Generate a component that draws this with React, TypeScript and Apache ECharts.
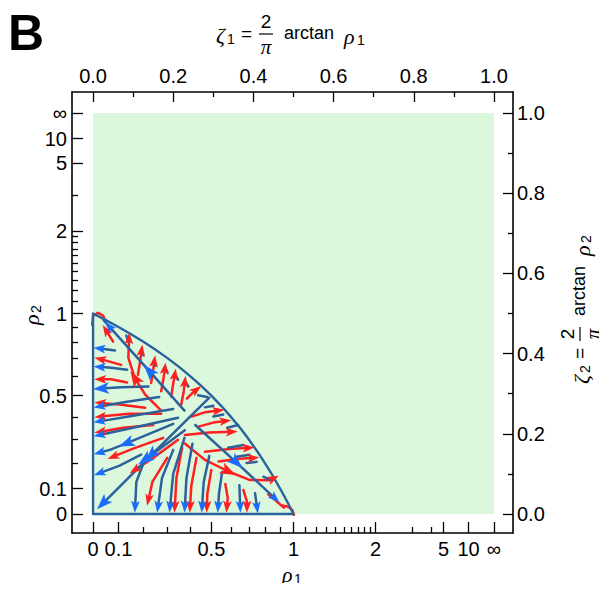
import React, { useEffect, useRef } from 'react';
import * as echarts from 'echarts';

// ---------- axis tick data ----------
const rhoMajor = [0, 0.1, 0.5, 1, 2, 5, 10, Infinity];
const rhoMajorLabels = ['0', '0.1', '0.5', '1', '2', '5', '10', '∞'];
const rhoMinorX = [0.2, 0.3, 0.4, 0.6, 0.7, 0.8, 0.9, 1.1, 1.2, 1.3, 1.4, 1.5, 1.6, 1.7, 1.8, 1.9, 3, 4];
const rhoMinorY = [0.2, 0.3, 0.4, 0.6, 0.7, 0.8, 0.9, 1.1, 1.2, 1.3, 1.4, 1.5, 1.6, 1.7, 1.8, 1.9, 3];
const zetaMajor = [0, 0.2, 0.4, 0.6, 0.8, 1.0];
const zetaMinor = [0.1, 0.3, 0.5, 0.7, 0.9];

// ---------- region data (zeta coordinates) ----------
const greenRegion = [[0, 0, 1, 1]];
const boundary = [
  [0.5, 0], [0, 0], [0, 0.5], [0.0318, 0.4837], [0.0635, 0.4665], [0.0948, 0.4485], [0.1257, 0.4295],
  [0.156, 0.4097], [0.1856, 0.3888], [0.2144, 0.367], [0.2422, 0.344], [0.2692, 0.3201], [0.2952, 0.2952],
  [0.3201, 0.2692], [0.344, 0.2422], [0.367, 0.2144], [0.3888, 0.1856], [0.4097, 0.156], [0.4295, 0.1257],
  [0.4485, 0.0948], [0.4665, 0.0635], [0.4837, 0.0318], [0.5, 0],
];
const cornerArcs = [
  [[-0.002, 0.472], [0.0, 0.494], [0.012, 0.502], [0.025, 0.495], [0.03, 0.482]],
  [[0.472, 0.021], [0.487, 0.018], [0.497, 0.01], [0.501, -0.002]],
];

// blue streamlines, arrow at the end
const blueArrowLines = [
  [[0.055, 0.408], [0.032, 0.411], [0.016, 0.413]],
  [[0.085, 0.36], [0.045, 0.365], [0.016, 0.367]],
  [[0.165, 0.292], [0.085, 0.28], [0.016, 0.268]],
  [[0.2, 0.262], [0.1, 0.245], [0.016, 0.231]],
  [[0.212, 0.24], [0.1, 0.215], [0.016, 0.197]],
  [[0.083, 0.176], [0.045, 0.161], [0.016, 0.153]],
  [[0.12, 0.148], [0.065, 0.12], [0.016, 0.102]],
  [[0.14, 0.357], [0.04, 0.468]],
  [[0.358, 0.128], [0.454, 0.039]],
  [[0.129, 0.135], [0.108, 0.08], [0.105, 0.018]],
  [[0.2, 0.16], [0.172, 0.09], [0.162, 0.018]],
  [[0.228, 0.19], [0.2, 0.1], [0.192, 0.018]],
  [[0.248, 0.175], [0.233, 0.09], [0.229, 0.018]],
  [[0.29, 0.145], [0.276, 0.08], [0.272, 0.018]],
  [[0.322, 0.105], [0.314, 0.05], [0.312, 0.018]],
  [[0.365, 0.072], [0.367, 0.018]],
  [[0.404, 0.052], [0.409, 0.016]],
];
const blueBigArrowLines = [
  [[0.29, 0.29], [0.145, 0.147]],
  [[0.145, 0.147], [0.024, 0.026]],
  [[0.228, 0.258], [0.14, 0.357]],
  [[0.255, 0.222], [0.358, 0.128]],
  [[0.138, 0.318], [0.07, 0.316], [0.02, 0.313]],
  [[0.2, 0.225], [0.14, 0.2], [0.083, 0.176]],
  [[0.229, 0.209], [0.17, 0.165], [0.129, 0.135]],
];
// blue short streamlines without arrows
const blueDashes = [
  [[0.04, 0.468], [0.026, 0.484]],
  [[0.083, 0.445], [0.088, 0.43]],
  [[0.121, 0.41], [0.125, 0.396]],
  [[0.152, 0.384], [0.156, 0.37]],
  [[0.18, 0.366], [0.186, 0.352]],
  [[0.205, 0.348], [0.212, 0.335]],
  [[0.23, 0.33], [0.238, 0.318]],
  [[0.262, 0.296], [0.285, 0.292]],
  [[0.279, 0.266], [0.3, 0.27]],
  [[0.3, 0.243], [0.325, 0.248]],
  [[0.335, 0.215], [0.362, 0.222]],
  [[0.337, 0.165], [0.375, 0.172]],
  [[0.355, 0.142], [0.39, 0.148]],
  [[0.383, 0.127], [0.408, 0.13]],
  [[0.425, 0.093], [0.441, 0.085]],
];

// red streamlines, arrow at the end
const redArrowLines = [
  [[0.07, 0.372], [0.035, 0.382], [0.018, 0.386]],
  [[0.085, 0.328], [0.045, 0.336], [0.018, 0.336]],
  [[0.13, 0.265], [0.065, 0.273], [0.018, 0.277]],
  [[0.17, 0.25], [0.09, 0.25], [0.018, 0.243]],
  [[0.15, 0.222], [0.075, 0.215], [0.018, 0.205]],
  [[0.175, 0.19], [0.1, 0.163], [0.05, 0.143]],
  [[0.212, 0.185], [0.15, 0.14], [0.104, 0.11]],
  [[0.104, 0.339], [0.088, 0.39], [0.09, 0.438]],
  [[0.05, 0.43], [0.032, 0.459]],
  [[0.112, 0.347], [0.118, 0.385], [0.121, 0.408]],
  [[0.145, 0.327], [0.15, 0.36], [0.153, 0.381]],
  [[0.17, 0.306], [0.176, 0.34], [0.179, 0.363]],
  [[0.195, 0.293], [0.2, 0.325], [0.204, 0.348]],
  [[0.22, 0.273], [0.226, 0.305], [0.229, 0.33]],
  [[0.234, 0.288], [0.248, 0.302], [0.258, 0.31]],
  [[0.246, 0.243], [0.28, 0.254], [0.313, 0.258]],
  [[0.263, 0.218], [0.3, 0.228], [0.33, 0.232]],
  [[0.229, 0.197], [0.29, 0.203], [0.346, 0.205]],
  [[0.279, 0.155], [0.34, 0.162], [0.388, 0.165]],
  [[0.313, 0.131], [0.36, 0.137], [0.4, 0.14]],
  [[0.338, 0.106], [0.39, 0.085], [0.44, 0.084], [0.45, 0.089]],
  [[0.185, 0.14], [0.148, 0.08], [0.138, 0.035]],
  [[0.222, 0.165], [0.208, 0.09], [0.204, 0.018]],
  [[0.258, 0.14], [0.245, 0.07], [0.242, 0.018]],
  [[0.295, 0.11], [0.285, 0.05], [0.284, 0.018]],
  [[0.33, 0.075], [0.336, 0.04], [0.334, 0.018]],
  [[0.375, 0.06], [0.384, 0.03], [0.384, 0.018]],
];
const redBigArrowLines = [
  [[0.17, 0.258], [0.13, 0.298], [0.104, 0.339]],
  [[0.229, 0.176], [0.279, 0.135], [0.338, 0.106]],
];
const redPlainLines = [
  [[0.437, 0.049], [0.46, 0.03], [0.476, 0.016]],
];

// ---------- styles ----------
const BLUE = '#29629c';
const BLUE_ARROW = '#1a6dff';
const RED = '#ff1f1f';
const GREEN = '#dcf8dc';
const FONT = 'Liberation Sans';
const SERIF = 'Liberation Serif';
const ARROW = 'path://M0,0L4,11L0,8.4L-4,11Z M-5.5,5L-5.49,5 M5.5,5L5.49,5';

const X_MIN = -0.0525, X_MAX = 1.0475;
const Y_MIN = -0.0474, Y_MAX = 1.0526;

const zeta = (r: number) => (r === Infinity ? 1 : (2 / Math.PI) * Math.atan(r));
const rhoMajorZ = rhoMajor.map(zeta);
const fmtRho = (v: number) => {
  const i = rhoMajorZ.findIndex((z) => Math.abs(z - v) < 1e-4);
  return i >= 0 ? rhoMajorLabels[i] : '';
};

const tickLine = { color: '#000', width: 1.3 };
const labelStyle = { color: '#000', fontSize: 20, fontFamily: FONT };

function makeAxis(kind: 'x' | 'y', position: string, ticks: number[], len: number, labels: number[] | null, fmt: any, margin: number, showLine: boolean) {
  return {
    type: 'value',
    position,
    min: kind === 'x' ? X_MIN : Y_MIN,
    max: kind === 'x' ? X_MAX : Y_MAX,
    axisLine: { show: showLine, onZero: false, lineStyle: { color: '#000', width: 1.6 } },
    axisTick: { show: true, inside: true, length: len, customValues: ticks, lineStyle: tickLine },
    axisLabel: labels
      ? { show: true, customValues: labels, formatter: fmt, margin, ...labelStyle }
      : { show: false },
    splitLine: { show: false },
  };
}

const lastSeg = (l: number[][]) => ({ coords: [l[l.length - 2], l[l.length - 1]] });
const full = (l: number[][]) => ({ coords: l });

type Piece = { dx: number; dy: number; text?: string; size?: number; family?: string; italic?: boolean; align?: string; bar?: number };

const fracPieces = (sub: string): Piece[] => [
  { dx: -75, dy: 2, text: 'ζ', size: 22, family: SERIF, italic: true },
  { dx: -64, dy: 6, text: sub, size: 14, family: FONT },
  { dx: -50, dy: 0, text: '=', size: 19, family: FONT },
  { dx: -25, dy: -12, text: '2', size: 19, family: FONT, align: 'center' },
  { dx: -25, dy: 1, bar: 7 },
  { dx: -25, dy: 14, text: 'π', size: 21, family: SERIF, italic: true, align: 'center' },
  { dx: -7, dy: 0, text: 'arctan', size: 18, family: FONT },
  { dx: 53, dy: 3, text: 'ρ', size: 22, family: SERIF, italic: true },
  { dx: 66, dy: 7, text: sub, size: 14, family: FONT },
];
const rhoPieces = (sub: string): Piece[] => [
  { dx: -9, dy: 0, text: 'ρ', size: 22, family: SERIF, italic: true },
  { dx: 3, dy: 5, text: sub, size: 14, family: FONT },
];

function place(pieces: Piece[], cx: number, cy: number, rotated: boolean) {
  return pieces.map((p) => {
    const x = rotated ? cx + p.dy : cx + p.dx;
    const y = rotated ? cy - p.dx : cy + p.dy;
    const rotation = rotated ? Math.PI / 2 : 0;
    if (p.bar) {
      return { type: 'line', x, y, rotation, shape: { x1: -p.bar, y1: 0, x2: p.bar, y2: 0 }, style: { stroke: '#000', lineWidth: 1.2 } };
    }
    return {
      type: 'text', x, y, rotation,
      style: {
        text: p.text, fontSize: p.size, fontFamily: p.family, fontStyle: p.italic ? 'italic' : 'normal',
        fill: '#000', align: p.align || 'left', verticalAlign: 'middle',
      },
    };
  });
}

export default function App() {
  const ref = useRef<HTMLDivElement>(null);
  useEffect(() => {
    if (!ref.current) return;
    const chart = echarts.init(ref.current, null, { renderer: 'svg' });
    const arrowSeries = (name: string, lines: number[][][], color: string, size: number, z: number) => ({
      name, type: 'lines', coordinateSystem: 'cartesian2d', xAxisIndex: 0, yAxisIndex: 0,
      polyline: false, silent: true, z,
      symbol: ['none', ARROW], symbolSize: size,
      lineStyle: { color, width: 0, opacity: 1 },
      data: lines.map(lastSeg),
    });
    const bodySeries = (name: string, lines: number[][][], color: string, z: number, width = 2.5) => ({
      name, type: 'lines', coordinateSystem: 'cartesian2d', xAxisIndex: 0, yAxisIndex: 0,
      polyline: true, silent: true, z,
      lineStyle: { color, width, opacity: 1, cap: 'round', join: 'round' },
      data: lines.map(full),
    });
    chart.setOption({
      animation: false,
      backgroundColor: '#fff',
      grid: { left: 72, right: 94, top: 92, bottom: 58, containLabel: false },
      xAxis: [
        makeAxis('x', 'bottom', rhoMajorZ, 11, rhoMajorZ, fmtRho, 6, true),
        makeAxis('x', 'bottom', rhoMinorX.map(zeta), 6, null, null, 0, false),
        makeAxis('x', 'top', zetaMajor, 10, zetaMajor, (v: number) => v.toFixed(1), 6, true),
        makeAxis('x', 'top', zetaMinor, 5, null, null, 0, false),
      ],
      yAxis: [
        makeAxis('y', 'left', rhoMajorZ, 11, rhoMajorZ, fmtRho, 5, true),
        makeAxis('y', 'left', rhoMinorY.map(zeta), 6, null, null, 0, false),
        makeAxis('y', 'right', zetaMajor, 10, zetaMajor, (v: number) => v.toFixed(1), 4, true),
        makeAxis('y', 'right', zetaMinor, 5, null, null, 0, false),
      ],
      graphic: [
        { type: 'text', left: 8, top: 8, style: { text: 'B', fontSize: 50, fontWeight: 'bold', fontFamily: FONT, fill: '#000' } },
        ...place(fracPieces('1'), 291, 33, false),
        ...place(fracPieces('2'), 579, 309, true),
        ...place(rhoPieces('2'), 31, 316, true),
        ...place(rhoPieces('1'), 291, 574, false),
      ],
      series: [
        {
          type: 'custom', xAxisIndex: 0, yAxisIndex: 0, silent: true, z: 1,
          data: greenRegion,
          encode: { x: [0, 2], y: [1, 3] },
          renderItem: (_p: any, api: any) => {
            const a = api.coord([api.value(0), api.value(1)]);
            const b = api.coord([api.value(2), api.value(3)]);
            return { type: 'rect', shape: { x: a[0], y: b[1], width: b[0] - a[0], height: a[1] - b[1] }, style: { fill: GREEN } };
          },
        },
        bodySeries('corner', cornerArcs, RED, 3),
        bodySeries('redBody', [...redArrowLines, ...redBigArrowLines, ...redPlainLines], RED, 4),
        bodySeries('blueBody', [...blueArrowLines, ...blueBigArrowLines, ...blueDashes], BLUE, 5),
        bodySeries('boundary', [boundary], BLUE, 6, 2.4),
        arrowSeries('redArrows', redArrowLines, RED, 12, 7),
        arrowSeries('redBig', redBigArrowLines, RED, 16, 7),
        arrowSeries('blueArrows', blueArrowLines, BLUE_ARROW, 12, 8),
        arrowSeries('blueBig', blueBigArrowLines, BLUE_ARROW, 16, 8),
      ],
    });
    return () => chart.dispose();
  }, []);
  return <div ref={ref} style={{ width: 607, height: 591, margin: -8 }} />;
}
